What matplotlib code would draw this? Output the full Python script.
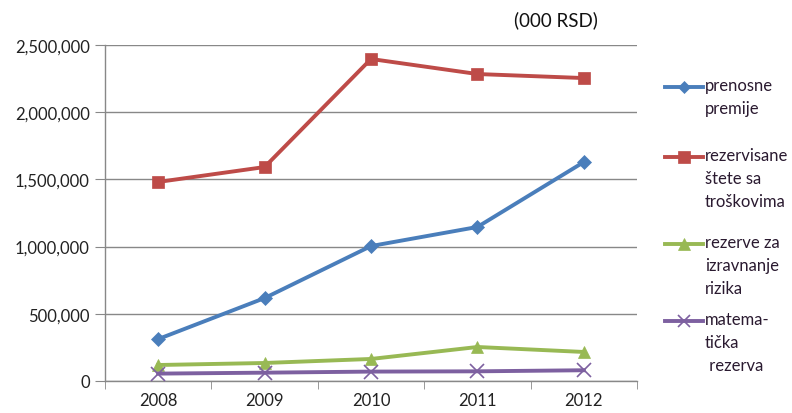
import matplotlib
matplotlib.use("Agg")
import matplotlib.pyplot as plt
from matplotlib.lines import Line2D
from matplotlib.ticker import FuncFormatter

years = ["2008", "2009", "2010", "2011", "2012"]
prenosne_premije = [312000, 617000, 1004000, 1146000, 1629000]
rezervisane_stete = [1481000, 1592000, 2396000, 2284000, 2254000]
rezerve_izravnanje = [119000, 134000, 164000, 253000, 216000]
matematicka_rezerva = [55000, 62000, 70000, 72000, 80000]

series_labels = ["prenosne\npremije", "rezervisane\nštete sa\ntroškovima",
                 "rezerve za\nizravnanje\nrizika", "matema-\ntička\n rezerva"]
series_values = [prenosne_premije, rezervisane_stete, rezerve_izravnanje, matematicka_rezerva]
colors = ["#4A7EBB", "#BE4B48", "#98B954", "#7D60A0"]
markers = ["D", "s", "^", "x"]
msizes = [7, 9, 9, 10]
yticks = [0, 500000, 1000000, 1500000, 2000000, 2500000]

plt.rcParams['font.family'] = ['Lato', 'DejaVu Sans']

fig = plt.figure(figsize=(7.92, 4.14), dpi=100)
ax = fig.add_axes([105/792, 32/414, (637-105)/792, (382-46)/414])

x = list(range(len(years)))
for vals, c, m, ms in zip(series_values, colors, markers, msizes):
    ax.plot(x, vals, color=c, lw=2.8, marker=m, markersize=ms,
            markeredgewidth=1.2 if m == "x" else 0.5, markeredgecolor=c, zorder=3)

ax.set_xlim(-0.5, len(years) - 0.5)
ax.set_ylim(0, 2500000)
ax.set_yticks(yticks)
ax.yaxis.set_major_formatter(FuncFormatter(lambda v, p: f"{int(v):,}"))
ax.set_xticks(x)
ax.set_xticklabels(years)
ax.set_xticks([i - 0.5 for i in range(len(years) + 1)], minor=True)
ax.tick_params(axis='x', which='major', length=0, pad=8, labelsize=12, labelcolor='#222222')
ax.tick_params(axis='x', which='minor', length=6, color='#888888', direction='out')
ax.tick_params(axis='y', length=7, color='#888888', labelsize=12, labelcolor='#222222', pad=4)
ax.grid(axis='y', color='#888888', lw=1)
ax.set_axisbelow(True)
for s in ['top', 'right']:
    ax.spines[s].set_visible(False)
for s in ['left', 'bottom']:
    ax.spines[s].set_color('#888888')
    ax.spines[s].set_linewidth(1)

fig.text(556/792, 1 - 20/414, "(000 RSD)", ha='center', va='center', fontsize=13.5, color='#111111')

# legend drawn manually
leg_y = [88, 158, 245, 322]
for lab, c, m, ms, yy in zip(series_labels, colors, markers, msizes, leg_y):
    yf = 1 - yy/414
    fig.add_artist(Line2D([665/792, 703/792], [yf, yf], color=c, lw=2.8))
    fig.add_artist(Line2D([684/792], [yf], color=c, marker=m, markersize=ms - 1,
                          markeredgewidth=1.2 if m == "x" else 0.5, markeredgecolor=c))
    fig.text(705/792, yf + 0.025, lab, ha='left', va='top', fontsize=12,
             color='#2a1a30', linespacing=1.55)

fig.savefig("out.png", dpi=100)
